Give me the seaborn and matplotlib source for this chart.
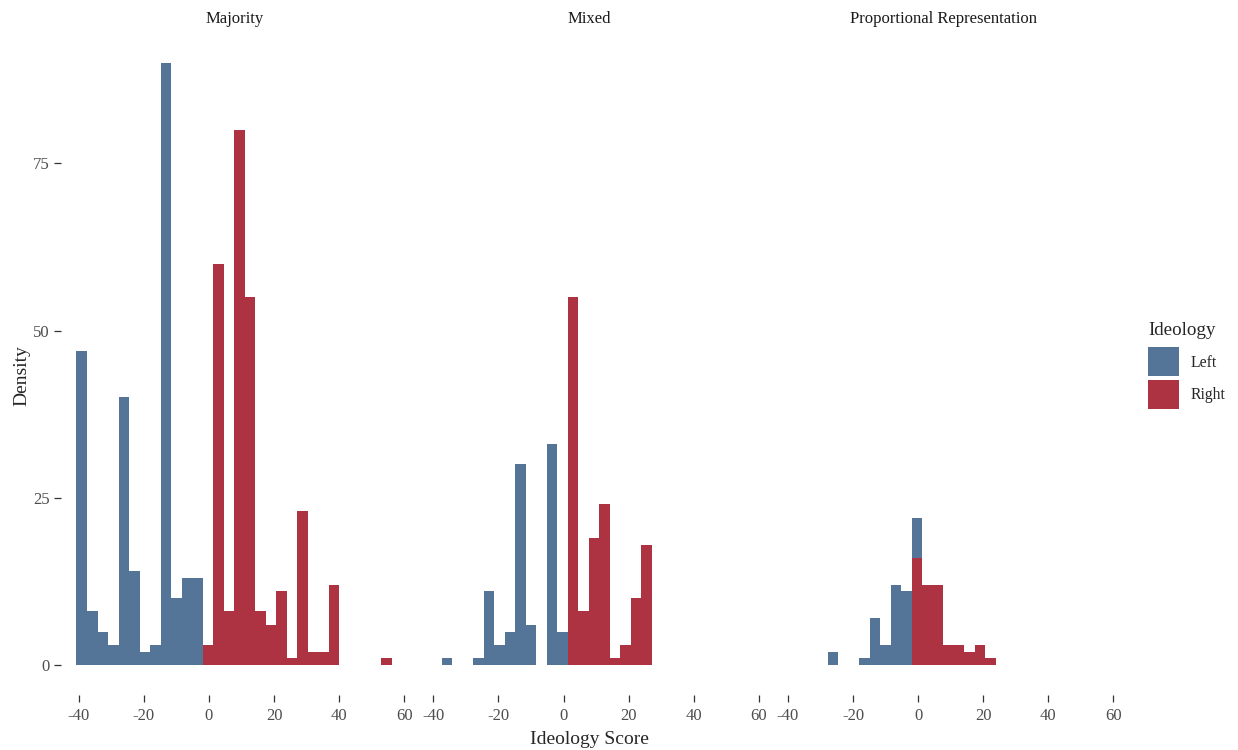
import numpy as np
import pandas as pd
import matplotlib
matplotlib.use("Agg")
import matplotlib.pyplot as plt
from matplotlib.patches import Patch
import seaborn as sns

# ---------------- data (counts per bin) ----------------
panels = ["Majority", "Mixed", "Proportional Representation"]
groups = ["Left", "Right"]
bin_start = -40.7
bin_width = 3.23
n_bins = 30

majority_left = [47, 8, 5, 3, 40, 14, 2, 3, 90, 10, 13, 13, 0, 0, 0, 0, 0, 0, 0, 0,
                 0, 0, 0, 0, 0, 0, 0, 0, 0, 0]
majority_right = [0, 0, 0, 0, 0, 0, 0, 0, 0, 0, 0, 0, 3, 60, 8, 80, 55, 8, 6, 11,
                  1, 23, 2, 2, 12, 0, 0, 0, 0, 1]
mixed_left = [0, 1, 0, 0, 1, 11, 3, 5, 30, 6, 0, 33, 5, 0, 0, 0, 0, 0, 0, 0,
              0, 0, 0, 0, 0, 0, 0, 0, 0, 0]
mixed_right = [0, 0, 0, 0, 0, 0, 0, 0, 0, 0, 0, 0, 0, 55, 8, 19, 24, 1, 3, 10,
               18, 0, 0, 0, 0, 0, 0, 0, 0, 0]
pr_left = [0, 0, 0, 0, 2, 0, 0, 1, 7, 3, 12, 11, 6, 0, 0, 0, 0, 0, 0, 0,
           0, 0, 0, 0, 0, 0, 0, 0, 0, 0]
pr_right = [0, 0, 0, 0, 0, 0, 0, 0, 0, 0, 0, 0, 16, 12, 12, 3, 3, 2, 3, 1,
            0, 0, 0, 0, 0, 0, 0, 0, 0, 0]

x_ticks = [-40, -20, 0, 20, 40, 60]
y_ticks = [0, 25, 50, 75]

counts = {
    ("Majority", "Left"): majority_left,
    ("Majority", "Right"): majority_right,
    ("Mixed", "Left"): mixed_left,
    ("Mixed", "Right"): mixed_right,
    ("Proportional Representation", "Left"): pr_left,
    ("Proportional Representation", "Right"): pr_right,
}

edges = bin_start + bin_width * np.arange(n_bins + 1)
centers = (edges[:-1] + edges[1:]) / 2

rows = []
for (panel, grp), vals in counts.items():
    for c, v in zip(centers, vals):
        rows.append({"System": panel, "Ideology": grp, "score": float(c), "count": float(v)})
df = pd.DataFrame(rows)

# ---------------- style ----------------
sns.set_theme(style="white")
plt.rcParams["font.family"] = ["Liberation Serif", "DejaVu Serif"]

palette = {"Left": "#557598", "Right": "#AE3342"}

W, H = 1238, 750
fig = plt.figure(figsize=(W / 100, H / 100), dpi=100)

panel_left = 60.7
panel_w = 347.0
gap = 7.6
top_px = 32.8
bot_px = 695.1
xlim = (-45.55, 61.05)
ylim = (-4.5, 94.5)

axes = []
for i, panel in enumerate(panels):
    l = panel_left + i * (panel_w + gap)
    ax = fig.add_axes([l / W, (H - bot_px) / H, panel_w / W, (bot_px - top_px) / H])
    axes.append(ax)
    sub = df[df["System"] == panel].reset_index(drop=True)
    sns.histplot(data=sub, x="score", weights="count", hue="Ideology",
                 hue_order=groups, binwidth=bin_width,
                 binrange=(float(edges[0]), float(edges[-1])), multiple="stack",
                 palette=palette, alpha=1, linewidth=0, legend=False, ax=ax)
    ax.set_xlim(*xlim)
    ax.set_ylim(*ylim)
    ax.set_xticks(x_ticks)
    ax.set_xticklabels([str(t) for t in x_ticks])
    ax.set_xlabel("")
    ax.set_ylabel("")
    for s in ax.spines.values():
        s.set_visible(False)
    ax.tick_params(axis="x", bottom=True, length=5, width=0.9, color="#333333",
                   labelsize=12, labelcolor="#4D4D4D", pad=4)
    if i == 0:
        ax.set_yticks(y_ticks)
        ax.set_yticklabels([str(t) for t in y_ticks])
        ax.tick_params(axis="y", left=True, length=5, width=0.9, color="#333333",
                       labelsize=12, labelcolor="#4D4D4D", pad=3)
    else:
        ax.set_yticks(y_ticks)
        ax.tick_params(axis="y", left=False, labelleft=False)
    ax.text(0.5, 1 + (top_px - 19) / (bot_px - top_px), panel, transform=ax.transAxes,
            ha="center", va="center", fontsize=12, color="#1A1A1A")
    ax.set_facecolor("white")

fig.text(589 / W, 1 - 739 / H, "Ideology Score", ha="center", va="center", fontsize=14)
fig.text(22 / W, 1 - 376 / H, "Density", ha="center", va="center", rotation=90, fontsize=14)

handles = [Patch(facecolor=palette[g], edgecolor="none") for g in groups]
leg = fig.legend(handles, groups, title="Ideology", loc="upper left",
                 bbox_to_anchor=(1148 / W, 1 - 322 / H), frameon=False,
                 fontsize=11.3, title_fontsize=13.7, handlelength=1.97, handleheight=2.47,
                 labelspacing=0.2, handletextpad=0.76, borderpad=0, borderaxespad=0,
                 alignment="left")
leg._legend_box.sep = 6.0

fig.savefig("out.png", dpi=100, facecolor="white")
